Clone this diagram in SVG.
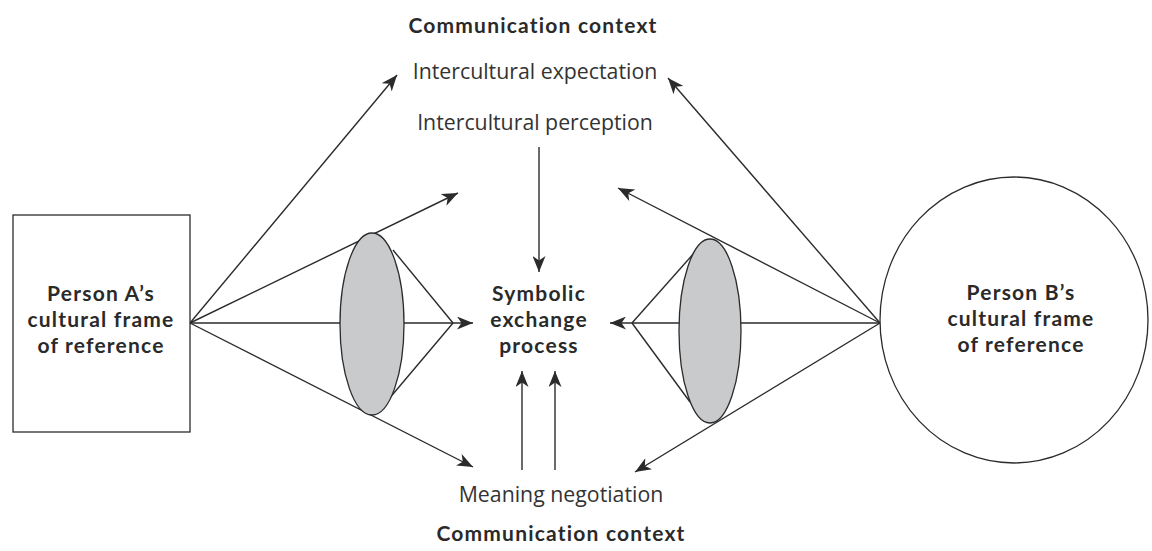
<svg xmlns="http://www.w3.org/2000/svg" width="1152" height="551" viewBox="0 0 1152 551">
  <style>
    .ln { stroke: #2b2b2b; stroke-width: 1.4; fill: none; }
    .shape { stroke: #2b2b2b; stroke-width: 1.3; fill: #ffffff; }
    .lens { stroke: #2b2b2b; stroke-width: 1.3; fill: #c9cacc; }
    .t { font-family: "Open Sans", "Liberation Sans", sans-serif; font-size: 21.3px; fill: #333333; text-anchor: middle; }
    .b { font-family: "Lato", "Open Sans", sans-serif; font-size: 21px; font-weight: bold; letter-spacing: 1.2px; fill: #2a2a2a; text-anchor: middle; }
  </style>
  <defs>
    <marker id="arr" markerUnits="userSpaceOnUse" markerWidth="17" markerHeight="13" viewBox="0 0 17 13" refX="16" refY="6.5" orient="auto">
      <path d="M0,0 L16,6.5 L0,13 L4.5,6.5 z" fill="#2b2b2b"/>
    </marker>
  </defs>
  <rect width="1152" height="551" fill="#ffffff"/>

  <g id="connectors">
    <!-- Person A side -->
    <line class="ln" x1="190" y1="323" x2="397" y2="75" marker-end="url(#arr)"/>
    <line class="ln" x1="190" y1="323" x2="458" y2="193" marker-end="url(#arr)"/>
    <line class="ln" x1="190" y1="323" x2="473" y2="323" marker-end="url(#arr)"/>
    <line class="ln" x1="190" y1="323" x2="473" y2="467" marker-end="url(#arr)"/>
    <line class="ln" x1="393" y1="250" x2="453" y2="323"/>
    <line class="ln" x1="388" y1="400" x2="453" y2="323"/>
    <!-- Person B side -->
    <line class="ln" x1="880" y1="323" x2="668" y2="78" marker-end="url(#arr)"/>
    <line class="ln" x1="880" y1="323" x2="618" y2="188" marker-end="url(#arr)"/>
    <line class="ln" x1="880" y1="323" x2="610" y2="323" marker-end="url(#arr)"/>
    <line class="ln" x1="880" y1="323" x2="635" y2="472" marker-end="url(#arr)"/>
    <line class="ln" x1="695" y1="252" x2="632" y2="323"/>
    <line class="ln" x1="690" y1="402" x2="632" y2="323"/>
    <!-- vertical arrows -->
    <line class="ln" x1="539" y1="147" x2="539" y2="272" marker-end="url(#arr)"/>
    <line class="ln" x1="522" y1="470" x2="522" y2="371" marker-end="url(#arr)"/>
    <line class="ln" x1="555" y1="470" x2="555" y2="371" marker-end="url(#arr)"/>
  </g>

  <g id="lens-a">
    <ellipse class="lens" cx="372" cy="324" rx="32" ry="91"/>
  </g>
  <g id="lens-b">
    <ellipse class="lens" cx="710" cy="331" rx="31" ry="92"/>
  </g>

  <g id="person-a">
    <rect class="shape" x="13" y="215" width="177" height="217"/>
    <text class="b" x="101" y="301">Person A’s</text>
    <text class="b" x="101" y="327">cultural frame</text>
    <text class="b" x="101" y="353">of reference</text>
  </g>

  <g id="person-b">
    <ellipse class="shape" cx="1014" cy="320" rx="134" ry="143"/>
    <text class="b" x="1021" y="300">Person B’s</text>
    <text class="b" x="1021" y="326">cultural frame</text>
    <text class="b" x="1021" y="352">of reference</text>
  </g>

  <g id="context-top">
    <text class="b" x="533" y="33">Communication context</text>
  </g>
  <g id="expectation">
    <text class="t" x="535" y="79">Intercultural expectation</text>
  </g>
  <g id="perception">
    <text class="t" x="535" y="130">Intercultural perception</text>
  </g>
  <g id="symbolic-exchange">
    <text class="b" x="539" y="301">Symbolic</text>
    <text class="b" x="539" y="327">exchange</text>
    <text class="b" x="539" y="353">process</text>
  </g>
  <g id="meaning">
    <text class="t" x="561" y="502">Meaning negotiation</text>
  </g>
  <g id="context-bottom">
    <text class="b" x="561" y="541">Communication context</text>
  </g>
</svg>
